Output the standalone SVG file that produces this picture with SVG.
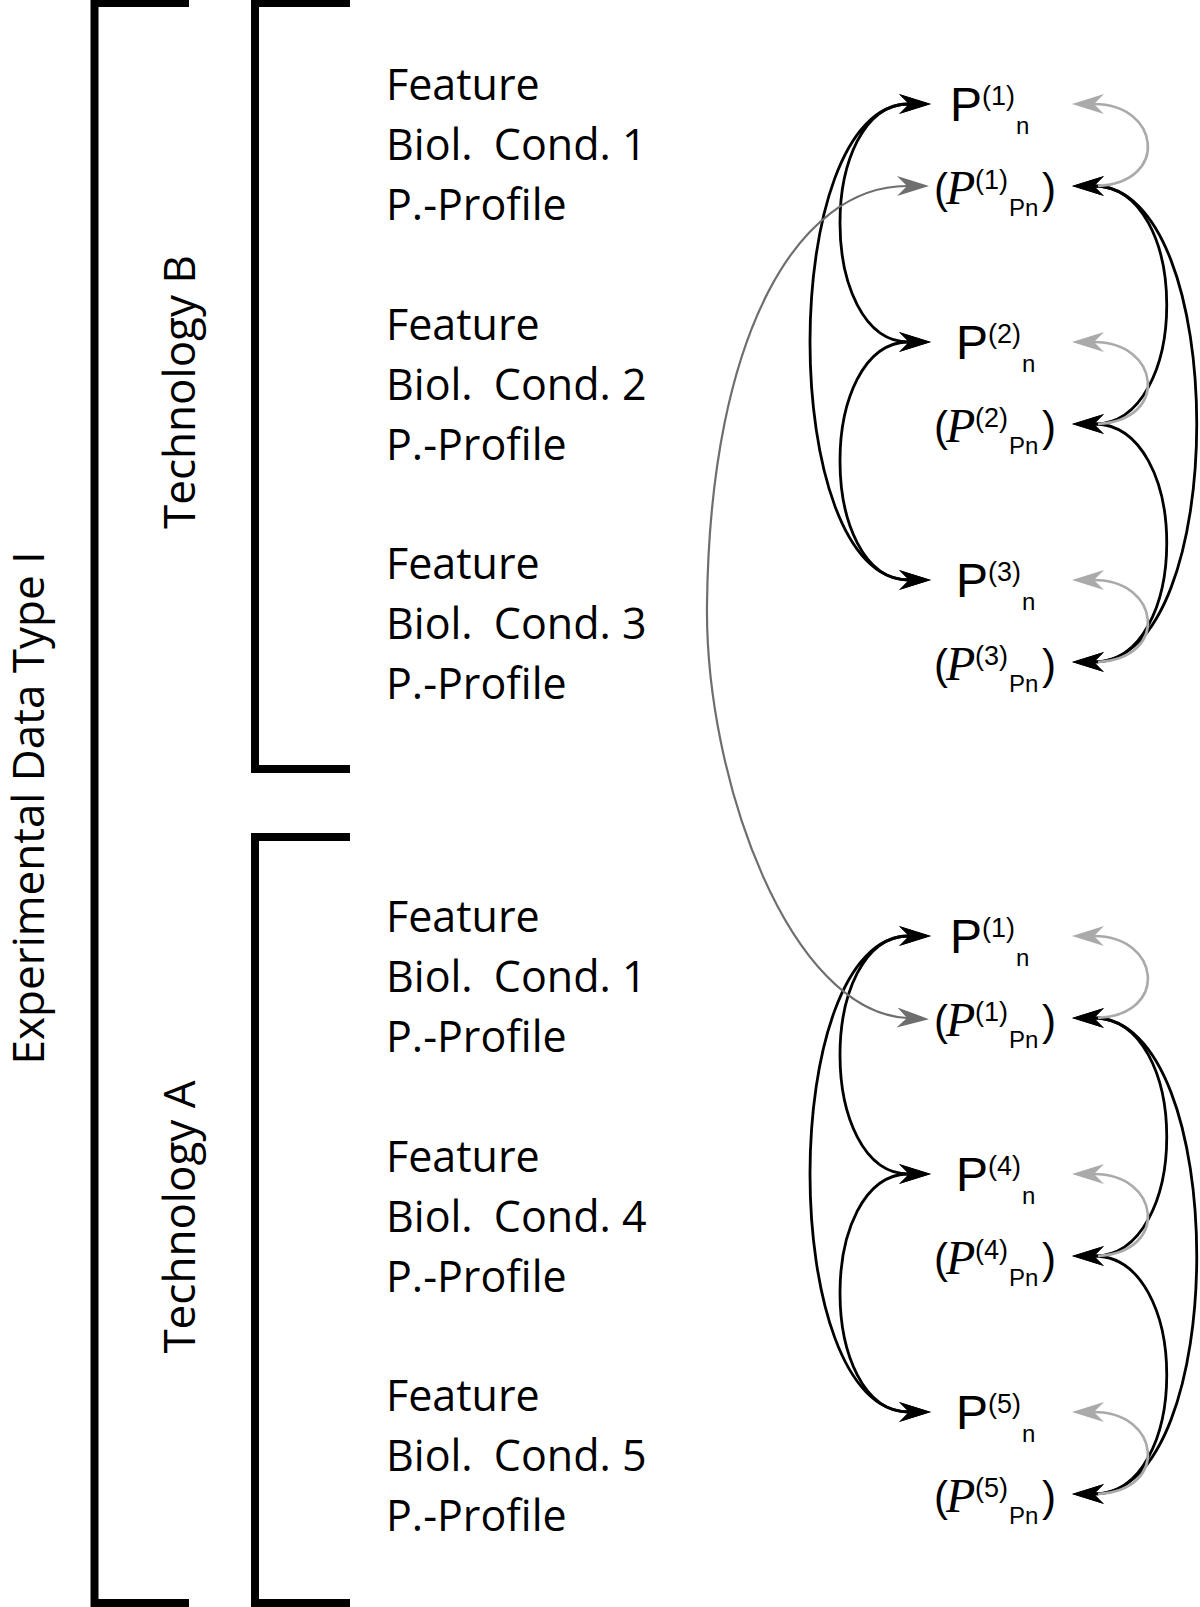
<svg xmlns="http://www.w3.org/2000/svg" width="1200" height="1607" viewBox="0 0 1200 1607">
<style>
.br{fill:none;stroke:#000;stroke-width:8;stroke-linejoin:miter}
.lbl{font-family:"Open Sans","Liberation Sans",sans-serif;font-size:43px;fill:#000}
.rot{font-family:"Open Sans","Liberation Sans",sans-serif;font-size:44px;fill:#000}
.p{font-family:"Liberation Sans",Arial,sans-serif;font-size:48px;fill:#000}
.s{font-family:"Liberation Sans",Arial,sans-serif;font-size:27px}
.sb{font-family:"Liberation Sans",Arial,sans-serif;font-size:24px}
.pr{font-family:"Liberation Sans",Arial,sans-serif;font-size:42px}
.pi{font-family:"Liberation Serif","Times New Roman",serif;font-style:italic;font-size:48px}
.k{fill:none;stroke:#000;stroke-width:2.8}
.g{fill:none;stroke:#6e6e6e;stroke-width:2.2}
.lg{fill:none;stroke:#aaaaaa;stroke-width:2.6}
</style>
<defs>
<marker id="ak" markerUnits="userSpaceOnUse" markerWidth="34" markerHeight="22" viewBox="0 -11 34 22" refX="10" refY="0" orient="auto-start-reverse"><path d="M32,0 L0,-10 L10,0 L0,10 Z" fill="#000"/></marker>
<marker id="ag" markerUnits="userSpaceOnUse" markerWidth="34" markerHeight="22" viewBox="0 -11 34 22" refX="10" refY="0" orient="auto-start-reverse"><path d="M32,0 L0,-10 L10,0 L0,10 Z" fill="#6e6e6e"/></marker>
<marker id="al" markerUnits="userSpaceOnUse" markerWidth="34" markerHeight="22" viewBox="0 -11 34 22" refX="10" refY="0" orient="auto-start-reverse"><path d="M32,0 L0,-10 L10,0 L0,10 Z" fill="#aaaaaa"/></marker>
</defs>

<g id="bracket-data-type"><path class="br" d="M189,3 H94.5 V1603 H189"/></g>
<g id="bracket-tech-b"><path class="br" d="M350,3 H255 V769 H350"/></g>
<g id="bracket-tech-a"><path class="br" d="M350,837 H255 V1603 H350"/></g>

<g id="label-data-type"><text class="rot" transform="translate(44,808) rotate(-90)" text-anchor="middle">Experimental Data Type I</text></g>
<g id="label-tech-b"><text class="rot" transform="translate(195,392) rotate(-90)" text-anchor="middle">Technology B</text></g>
<g id="label-tech-a"><text class="rot" transform="translate(195,1217) rotate(-90)" text-anchor="middle">Technology A</text></g>

<g id="profile-b1" class="lbl"><text x="386" y="100">Feature</text><text x="386" y="160">Biol. <tspan dx="10">Cond. 1</tspan></text><text x="386" y="220">P.-Profile</text></g>
<g id="profile-b2" class="lbl"><text x="386" y="340">Feature</text><text x="386" y="400">Biol. <tspan dx="10">Cond. 2</tspan></text><text x="386" y="460">P.-Profile</text></g>
<g id="profile-b3" class="lbl"><text x="386" y="579">Feature</text><text x="386" y="639">Biol. <tspan dx="10">Cond. 3</tspan></text><text x="386" y="699">P.-Profile</text></g>
<g id="profile-a1" class="lbl"><text x="386" y="932">Feature</text><text x="386" y="992">Biol. <tspan dx="10">Cond. 1</tspan></text><text x="386" y="1052">P.-Profile</text></g>
<g id="profile-a4" class="lbl"><text x="386" y="1172">Feature</text><text x="386" y="1232">Biol. <tspan dx="10">Cond. 4</tspan></text><text x="386" y="1292">P.-Profile</text></g>
<g id="profile-a5" class="lbl"><text x="386" y="1411">Feature</text><text x="386" y="1471">Biol. <tspan dx="10">Cond. 5</tspan></text><text x="386" y="1531">P.-Profile</text></g>

<g id="connectors">
<!-- Technology B, left -->
<path class="k" d="M909,104 C817,104 817,342 909,342" marker-start="url(#ak)" marker-end="url(#ak)"/>
<path class="k" d="M909,342 C817,342 817,580 909,580" marker-start="url(#ak)" marker-end="url(#ak)"/>
<path class="k" d="M909,104 C777,104 777,580 909,580" marker-start="url(#ak)" marker-end="url(#ak)"/>
<!-- Technology B, right -->
<path class="k" d="M1094,186 C1191,186 1191,424 1094,424" marker-start="url(#ak)" marker-end="url(#ak)"/>
<path class="k" d="M1094,424 C1191,424 1191,662 1094,662" marker-start="url(#ak)" marker-end="url(#ak)"/>
<path class="k" d="M1094,186 C1231,186 1231,662 1094,662" marker-start="url(#ak)" marker-end="url(#ak)"/>
<path class="lg" d="M1098,186 C1170,182 1160,104 1094,104" marker-end="url(#al)"/>
<path class="lg" d="M1098,424 C1170,420 1160,342 1094,342" marker-end="url(#al)"/>
<path class="lg" d="M1098,662 C1170,658 1160,580 1094,580" marker-end="url(#al)"/>
<!-- Technology A, left -->
<path class="k" d="M909,936 C817,936 817,1174 909,1174" marker-start="url(#ak)" marker-end="url(#ak)"/>
<path class="k" d="M909,1174 C817,1174 817,1412 909,1412" marker-start="url(#ak)" marker-end="url(#ak)"/>
<path class="k" d="M909,936 C777,936 777,1412 909,1412" marker-start="url(#ak)" marker-end="url(#ak)"/>
<!-- Technology A, right -->
<path class="k" d="M1094,1018 C1191,1018 1191,1256 1094,1256" marker-start="url(#ak)" marker-end="url(#ak)"/>
<path class="k" d="M1094,1256 C1191,1256 1191,1494 1094,1494" marker-start="url(#ak)" marker-end="url(#ak)"/>
<path class="k" d="M1094,1018 C1231,1018 1231,1494 1094,1494" marker-start="url(#ak)" marker-end="url(#ak)"/>
<path class="lg" d="M1098,1018 C1170,1014 1160,936 1094,936" marker-end="url(#al)"/>
<path class="lg" d="M1098,1256 C1170,1252 1160,1174 1094,1174" marker-end="url(#al)"/>
<path class="lg" d="M1098,1494 C1170,1490 1160,1412 1094,1412" marker-end="url(#al)"/>
<!-- cross-technology link -->
<path class="g" d="M907,186 C800,186 710,330 707,605 C705,780 790,1012 907,1018" marker-start="url(#ag)" marker-end="url(#ag)"/>
</g>

<g id="node-b-p1n"><text class="p"><tspan x="950" y="121">P</tspan><tspan class="s" x="982" y="105">(1)</tspan><tspan class="sb" x="1016" y="134">n</tspan></text></g>
<g id="node-b-p1pn"><text class="p"><tspan class="pr" x="934" y="203">(</tspan><tspan class="pi" x="946" y="204">P</tspan><tspan class="s" x="975" y="189">(1)</tspan><tspan class="sb" x="1009" y="216">Pn</tspan><tspan class="pr" x="1042" y="203">)</tspan></text></g>
<g id="node-b-p2n"><text class="p"><tspan x="956" y="359">P</tspan><tspan class="s" x="988" y="343">(2)</tspan><tspan class="sb" x="1022" y="372">n</tspan></text></g>
<g id="node-b-p2pn"><text class="p"><tspan class="pr" x="934" y="441">(</tspan><tspan class="pi" x="946" y="442">P</tspan><tspan class="s" x="975" y="427">(2)</tspan><tspan class="sb" x="1009" y="454">Pn</tspan><tspan class="pr" x="1042" y="441">)</tspan></text></g>
<g id="node-b-p3n"><text class="p"><tspan x="956" y="597">P</tspan><tspan class="s" x="988" y="581">(3)</tspan><tspan class="sb" x="1022" y="610">n</tspan></text></g>
<g id="node-b-p3pn"><text class="p"><tspan class="pr" x="934" y="679">(</tspan><tspan class="pi" x="946" y="680">P</tspan><tspan class="s" x="975" y="665">(3)</tspan><tspan class="sb" x="1009" y="692">Pn</tspan><tspan class="pr" x="1042" y="679">)</tspan></text></g>

<g id="node-a-p1n"><text class="p"><tspan x="950" y="953">P</tspan><tspan class="s" x="982" y="937">(1)</tspan><tspan class="sb" x="1016" y="966">n</tspan></text></g>
<g id="node-a-p1pn"><text class="p"><tspan class="pr" x="934" y="1035">(</tspan><tspan class="pi" x="946" y="1036">P</tspan><tspan class="s" x="975" y="1021">(1)</tspan><tspan class="sb" x="1009" y="1048">Pn</tspan><tspan class="pr" x="1042" y="1035">)</tspan></text></g>
<g id="node-a-p4n"><text class="p"><tspan x="956" y="1191">P</tspan><tspan class="s" x="988" y="1175">(4)</tspan><tspan class="sb" x="1022" y="1204">n</tspan></text></g>
<g id="node-a-p4pn"><text class="p"><tspan class="pr" x="934" y="1273">(</tspan><tspan class="pi" x="946" y="1274">P</tspan><tspan class="s" x="975" y="1259">(4)</tspan><tspan class="sb" x="1009" y="1286">Pn</tspan><tspan class="pr" x="1042" y="1273">)</tspan></text></g>
<g id="node-a-p5n"><text class="p"><tspan x="956" y="1429">P</tspan><tspan class="s" x="988" y="1413">(5)</tspan><tspan class="sb" x="1022" y="1442">n</tspan></text></g>
<g id="node-a-p5pn"><text class="p"><tspan class="pr" x="934" y="1511">(</tspan><tspan class="pi" x="946" y="1512">P</tspan><tspan class="s" x="975" y="1497">(5)</tspan><tspan class="sb" x="1009" y="1524">Pn</tspan><tspan class="pr" x="1042" y="1511">)</tspan></text></g>
</svg>
